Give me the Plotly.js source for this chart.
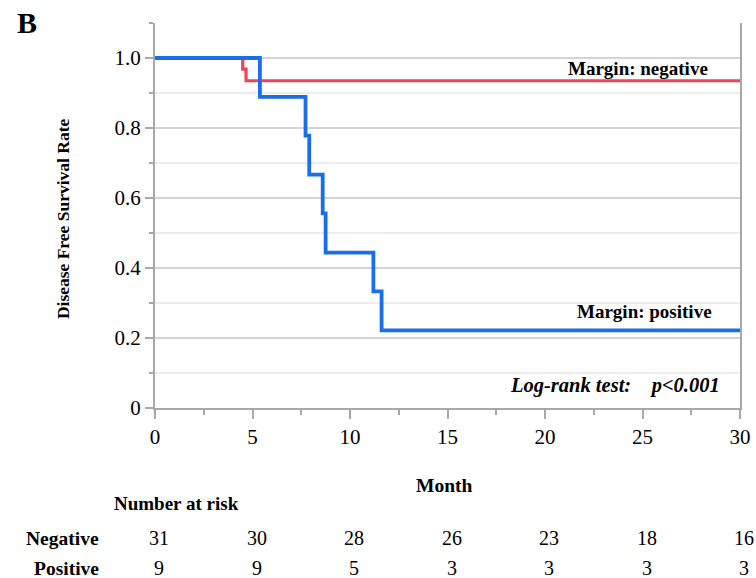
<!DOCTYPE html>
<html>
<head>
<meta charset="utf-8">
<script src="https://cdn.plot.ly/plotly-3.0.1.min.js"></script>
<style>html,body{margin:0;padding:0;background:#fff;}#chart{width:756px;height:578px;}</style>
</head>
<body>
<div id="chart"></div>
<script>
// Kaplan-Meier step data (month, survival)
const negMonths = [0, 4.5, 4.67, 30];
const negSurv   = [1.0, 0.968, 0.935, 0.935];
const posMonths = [0, 5.38, 7.72, 7.91, 8.6, 8.75, 11.2, 11.62, 30];
const posSurv   = [1.0, 0.889, 0.778, 0.667, 0.556, 0.444, 0.333, 0.222, 0.222];

// Number at risk table
const riskMonths = [0, 5, 10, 15, 20, 25, 30];
const riskNegative = [31, 30, 28, 26, 23, 18, 16];
const riskPositive = [9, 9, 5, 3, 3, 3, 3];

const yTickVals = [0, 0.2, 0.4, 0.6, 0.8, 1.0];
const yTickText = ['0', '0.2', '0.4', '0.6', '0.8', '1.0'];

const SERIF = '"Liberation Serif", "Times New Roman", serif';

const traces = [
  {x: negMonths, y: negSurv, type: 'scatter', mode: 'lines', line: {shape: 'hv', color: '#f0435a', width: 3.2}, hoverinfo: 'skip'},
  {x: posMonths, y: posSurv, type: 'scatter', mode: 'lines', line: {shape: 'hv', color: '#1a6ee8', width: 3.8}, hoverinfo: 'skip'}
];

const ROW_NEG = -0.3377, ROW_POS = -0.4156;
const annotations = [
  {text: '<b>B</b>', xref: 'paper', yref: 'paper', x: -0.2393, y: 1.001, xanchor: 'left', yanchor: 'middle', showarrow: false, font: {family: SERIF, size: 30, color: '#000'}},
  {text: '<b>Disease Free Survival Rate</b>', xref: 'paper', yref: 'paper', x: -0.157, y: 0.491, textangle: -90, xanchor: 'center', yanchor: 'middle', showarrow: false, font: {family: SERIF, size: 17.5, color: '#000'}},
  {text: '<b>Margin: negative</b>', xref: 'x', yref: 'y', x: 28.46, y: 0.969, xanchor: 'right', yanchor: 'middle', showarrow: false, font: {family: SERIF, size: 19, color: '#000'}},
  {text: '<b>Margin: positive</b>', xref: 'x', yref: 'y', x: 28.67, y: 0.277, xanchor: 'right', yanchor: 'middle', showarrow: false, font: {family: SERIF, size: 19, color: '#000'}},
  {text: '<b><i>Log-rank test:    p<0.001</i></b>', xref: 'x', yref: 'y', x: 29.08, y: 0.063, xanchor: 'right', yanchor: 'middle', showarrow: false, font: {family: SERIF, size: 20.5, color: '#000'}},
  {text: '<b>Month</b>', xref: 'x', yref: 'paper', x: 14.8, y: -0.2, xanchor: 'center', yanchor: 'middle', showarrow: false, font: {family: SERIF, size: 19.5, color: '#000'}},
  {text: '<b>Number at risk</b>', xref: 'paper', yref: 'paper', x: -0.0735, y: -0.2468, xanchor: 'left', yanchor: 'middle', showarrow: false, font: {family: SERIF, size: 19, color: '#000'}},
  {text: '<b>Negative</b>', xref: 'paper', yref: 'paper', x: -0.0923, y: ROW_NEG, xanchor: 'right', yanchor: 'middle', showarrow: false, font: {family: SERIF, size: 19.5, color: '#000'}},
  {text: '<b>Positive</b>', xref: 'paper', yref: 'paper', x: -0.0923, y: ROW_POS, xanchor: 'right', yanchor: 'middle', showarrow: false, font: {family: SERIF, size: 19.5, color: '#000'}}
];
riskMonths.forEach((m, i) => {
  annotations.push({text: String(riskNegative[i]), xref: 'x', yref: 'paper', x: m, xshift: 4, y: ROW_NEG, xanchor: 'center', yanchor: 'middle', showarrow: false, font: {family: SERIF, size: 20, color: '#000'}});
  annotations.push({text: String(riskPositive[i]), xref: 'x', yref: 'paper', x: m, xshift: 4, y: ROW_POS, xanchor: 'center', yanchor: 'middle', showarrow: false, font: {family: SERIF, size: 20, color: '#000'}});
});

const layout = {
  width: 756, height: 578,
  margin: {l: 155, r: 16, t: 23, b: 170},
  paper_bgcolor: '#fff', plot_bgcolor: '#fff',
  showlegend: false,
  font: {family: SERIF, color: '#000'},
  xaxis: {
    range: [0, 30], tickmode: 'linear', tick0: 0, dtick: 5,
    showgrid: false, zeroline: false,
    showline: true, linecolor: '#a8a8a8', linewidth: 2,
    ticks: 'outside', ticklen: 9, tickcolor: '#a8a8a8', tickwidth: 2,
    tickfont: {family: SERIF, size: 21, color: '#000'},
    minor: {dtick: 2.5, tick0: 0, ticks: 'outside', ticklen: 5, tickcolor: '#a8a8a8', tickwidth: 2, showgrid: false}
  },
  yaxis: {
    range: [0, 1.1], tickmode: 'array', tickvals: yTickVals, ticktext: yTickText,
    showgrid: true, gridcolor: '#d4d4d4', gridwidth: 2, zeroline: false,
    showline: true, mirror: true, linecolor: '#a8a8a8', linewidth: 2,
    ticks: 'outside', ticklen: 8, tickcolor: '#a8a8a8', tickwidth: 2,
    tickfont: {family: SERIF, size: 21, color: '#000'},
    minor: {dtick: 0.1, tick0: 0, ticks: 'outside', ticklen: 4, tickcolor: '#a8a8a8', tickwidth: 2, showgrid: true, gridcolor: '#ececec', gridwidth: 2}
  },
  annotations: annotations
};

Plotly.newPlot('chart', traces, layout, {displayModeBar: false, staticPlot: true});
</script>
</body>
</html>
